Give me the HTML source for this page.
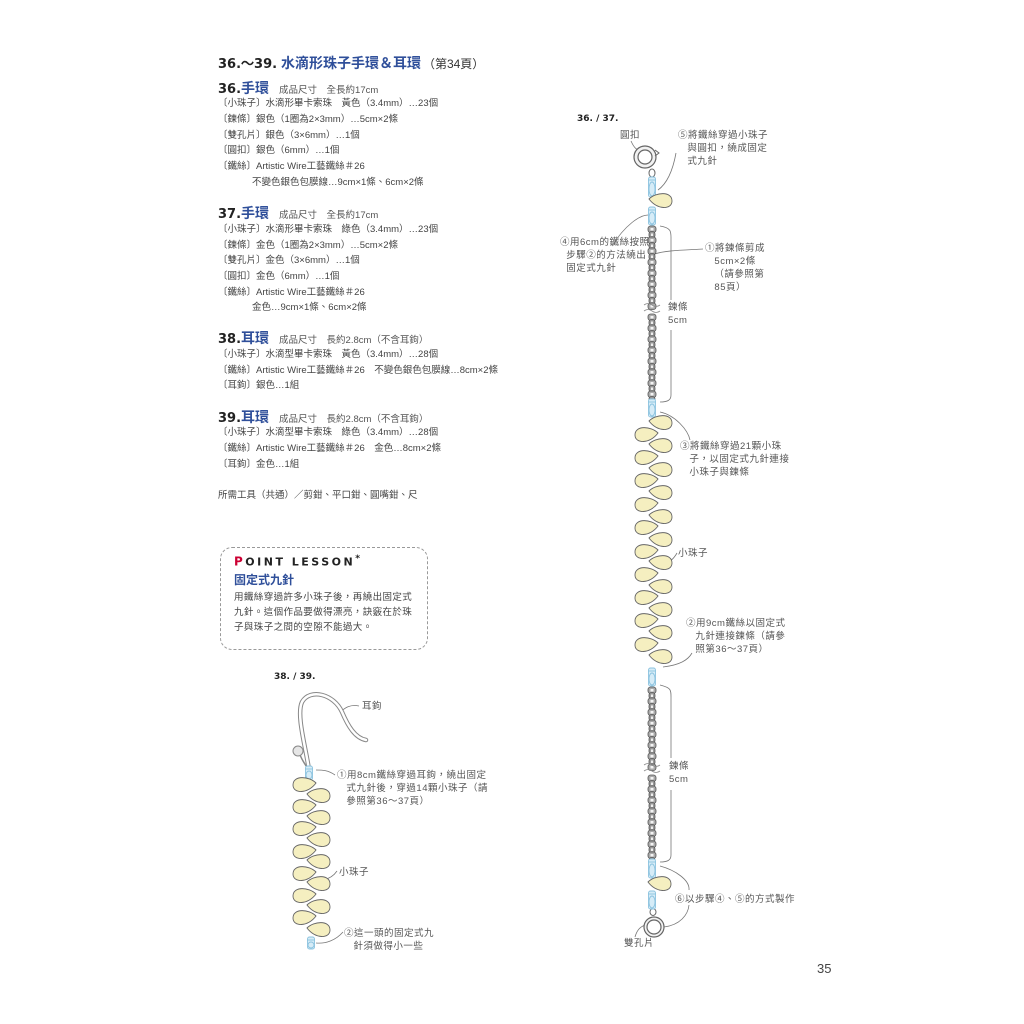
<!DOCTYPE html>
<html><head><meta charset="utf-8">
<style>
html,body{margin:0;padding:0;background:#fff;}
#pg{position:relative;width:1024px;height:1024px;overflow:hidden;font-family:"Liberation Sans","Noto Sans CJK TC",sans-serif;color:#444;}
.t{position:absolute;white-space:nowrap;font-size:9.5px;line-height:12px;color:#444;}
.h{position:absolute;white-space:nowrap;font-size:14px;font-weight:bold;color:#222;line-height:16px;}
.h b{color:#2f4f9a;font-weight:bold;font-size:14px;}
.h span{font-weight:normal;font-size:9.5px;color:#555;margin-left:10px;}
.num{font-family:"DejaVu Sans","Liberation Sans",sans-serif;font-weight:bold !important;color:#222;}
.lbl{position:absolute;white-space:nowrap;font-size:9.5px;line-height:13px;color:#555;letter-spacing:0.5px;}
svg{position:absolute;left:0;top:0;}
</style></head><body><div id="pg">

<div class="h" style="left:218px;top:55px;font-size:14px;"><span class="num" style="margin:0;font-size:13px;color:#222">36.～39.</span> <b>水滴形珠子手環＆耳環</b><span style="margin-left:2px;font-size:12px;color:#333">（第34頁）</span></div>

<div class="h" style="left:218px;top:80px;"><span class="num" style="margin:0;font-size:13px;color:#222">36.</span><b>手環</b><span>成品尺寸　全長約17cm</span></div>
<div class="t" style="left:218px;top:98px">〔小珠子〕水滴形畢卡索珠　黃色（3.4mm）…23個</div>
<div class="t" style="left:218px;top:114px">〔鍊條〕銀色（1圈為2×3mm）…5cm×2條</div>
<div class="t" style="left:218px;top:130px">〔雙孔片〕銀色（3×6mm）…1個</div>
<div class="t" style="left:218px;top:145px">〔圓扣〕銀色（6mm）…1個</div>
<div class="t" style="left:218px;top:161px">〔鐵絲〕Artistic Wire工藝鐵絲＃26</div>
<div class="t" style="left:252px;top:177px">不變色銀色包膜線…9cm×1條、6cm×2條</div>

<div class="h" style="left:218px;top:205px;"><span class="num" style="margin:0;font-size:13px;color:#222">37.</span><b>手環</b><span>成品尺寸　全長約17cm</span></div>
<div class="t" style="left:218px;top:224px">〔小珠子〕水滴形畢卡索珠　綠色（3.4mm）…23個</div>
<div class="t" style="left:218px;top:240px">〔鍊條〕金色（1圈為2×3mm）…5cm×2條</div>
<div class="t" style="left:218px;top:255px">〔雙孔片〕金色（3×6mm）…1個</div>
<div class="t" style="left:218px;top:271px">〔圓扣〕金色（6mm）…1個</div>
<div class="t" style="left:218px;top:287px">〔鐵絲〕Artistic Wire工藝鐵絲＃26</div>
<div class="t" style="left:252px;top:302px">金色…9cm×1條、6cm×2條</div>

<div class="h" style="left:218px;top:330px;"><span class="num" style="margin:0;font-size:13px;color:#222">38.</span><b>耳環</b><span>成品尺寸　長約2.8cm（不含耳鉤）</span></div>
<div class="t" style="left:218px;top:349px">〔小珠子〕水滴型畢卡索珠　黃色（3.4mm）…28個</div>
<div class="t" style="left:218px;top:365px">〔鐵絲〕Artistic Wire工藝鐵絲＃26　不變色銀色包膜線…8cm×2條</div>
<div class="t" style="left:218px;top:380px">〔耳鉤〕銀色…1組</div>

<div class="h" style="left:218px;top:409px;"><span class="num" style="margin:0;font-size:13px;color:#222">39.</span><b>耳環</b><span>成品尺寸　長約2.8cm（不含耳鉤）</span></div>
<div class="t" style="left:218px;top:427px">〔小珠子〕水滴型畢卡索珠　綠色（3.4mm）…28個</div>
<div class="t" style="left:218px;top:443px">〔鐵絲〕Artistic Wire工藝鐵絲＃26　金色…8cm×2條</div>
<div class="t" style="left:218px;top:459px">〔耳鉤〕金色…1組</div>

<div class="t" style="left:218px;top:490px">所需工具（共通）／剪鉗、平口鉗、圓嘴鉗、尺</div>

<div style="position:absolute;left:220px;top:547px;width:206px;height:101px;border:1px dashed #999;border-radius:12px;"></div>
<div class="t" style="left:234px;top:553px;font-size:11px;letter-spacing:2.5px;color:#222;font-weight:bold;font-family:'DejaVu Sans',sans-serif;"><span style="color:#c03;font-size:12px">P</span>OINT LESSON<sup>*</sup></div>
<div class="t" style="left:234px;top:573px;font-size:12px;line-height:14px;color:#2f4f9a;font-weight:bold;">固定式九針</div>
<div class="t" style="left:234px;top:590px;font-size:9.5px;line-height:15px;letter-spacing:0.4px;color:#444;">用鐵絲穿過許多小珠子後，再繞出固定式<br>九針。這個作品要做得漂亮，訣竅在於珠<br>子與珠子之間的空隙不能過大。</div>

<div class="t" style="left:274px;top:671px;font-weight:bold;font-size:9px;color:#222;font-family:'DejaVu Sans',sans-serif">38. / 39.</div>
<div class="t" style="left:577px;top:113px;font-weight:bold;font-size:9px;color:#222;font-family:'DejaVu Sans',sans-serif">36. / 37.</div>

<div class="lbl" style="left:620px;top:129px">圓扣</div>
<div class="lbl" style="left:678px;top:129px;">⑤將鐵絲穿過小珠子<br>&nbsp;&nbsp;&nbsp;與圓扣，繞成固定<br>&nbsp;&nbsp;&nbsp;式九針</div>
<div class="lbl" style="left:560px;top:236px;">④用6cm的鐵絲按照<br>&nbsp;&nbsp;步驟②的方法繞出<br>&nbsp;&nbsp;固定式九針</div>
<div class="lbl" style="left:705px;top:242px;">①將鍊條剪成<br>&nbsp;&nbsp;&nbsp;5cm×2條<br>&nbsp;&nbsp;&nbsp;（請參照第<br>&nbsp;&nbsp;&nbsp;85頁）</div>
<div class="lbl" style="left:668px;top:301px;">鍊條<br>5cm</div>
<div class="lbl" style="left:680px;top:440px;">③將鐵絲穿過21顆小珠<br>&nbsp;&nbsp;&nbsp;子，以固定式九針連接<br>&nbsp;&nbsp;&nbsp;小珠子與鍊條</div>
<div class="lbl" style="left:678px;top:547px;">小珠子</div>
<div class="lbl" style="left:686px;top:617px;">②用9cm鐵絲以固定式<br>&nbsp;&nbsp;&nbsp;九針連接鍊條（請參<br>&nbsp;&nbsp;&nbsp;照第36～37頁）</div>
<div class="lbl" style="left:669px;top:760px;">鍊條<br>5cm</div>
<div class="lbl" style="left:675px;top:893px;">⑥以步驟④、⑤的方式製作</div>
<div class="lbl" style="left:624px;top:937px;">雙孔片</div>

<div class="lbl" style="left:362px;top:700px;">耳鉤</div>
<div class="lbl" style="left:337px;top:769px;">①用8cm鐵絲穿過耳鉤，繞出固定<br>&nbsp;&nbsp;&nbsp;式九針後，穿過14顆小珠子（請<br>&nbsp;&nbsp;&nbsp;參照第36～37頁）</div>
<div class="lbl" style="left:339px;top:866px;">小珠子</div>
<div class="lbl" style="left:344px;top:927px;">②這一頭的固定式九<br>&nbsp;&nbsp;&nbsp;針須做得小一些</div>

<div class="t" style="left:817px;top:961px;font-size:13px;line-height:15px;color:#444">35</div>

<svg id="sv" width="1024" height="1024" viewBox="0 0 1024 1024">
<g fill="none" stroke="#777" stroke-width="0.8">
 <path d="M631,141 C635,150 638,150 640,150"/>
 <path d="M676,153 C672,175 665,185 658,190"/>
 <path d="M612,246 C625,225 640,215 648,215"/>
 <path d="M703,249 C690,250 665,250 655,254"/>
 <path d="M660,226 C672,228 671,232 671,240 L671,300 M671,330 L671,395 C671,400 668,402 660,402"/>
 <path d="M660,412 C675,415 688,430 690,440"/>
 <path d="M677,553 C673,560 668,563 664,564"/>
 <path d="M663,667 C680,665 688,660 692,653"/>
 <path d="M660,685 C672,688 671,690 671,700 L671,758 M671,790 L671,855 C671,860 668,862 660,862"/>
 <path d="M660,866 C675,870 690,880 689,890 M689,905 C688,915 680,925 664,927"/>
 <path d="M635,937 C637,930 640,927 645,925"/>
 <path d="M359,706 C350,704 345,708 340,712"/>
 <path d="M335,775 C328,770 322,770 316,770"/>
 <path d="M337,871 C333,877 328,879 323,880"/>
 <path d="M343,932 C336,940 326,944 316,943"/>
</g>
<path d="M309,770 C306,748 296,715 302,702 C310,688 334,694 342,712 C348,726 355,738 366,740" fill="none" stroke="#888" stroke-width="4.5" stroke-linecap="round"/>
<path d="M309,770 C306,748 296,715 302,702 C310,688 334,694 342,712 C348,726 355,738 366,740" fill="none" stroke="#fff" stroke-width="2.5" stroke-linecap="round"/>
<path d="M300,755 C303,762 306,766 309,770" fill="none" stroke="#888" stroke-width="1.5"/>
<circle cx="298" cy="751" r="5" fill="#e6e6e6" stroke="#888" stroke-width="1"/>
<circle cx="645" cy="157" r="11" fill="#f2f2f2" stroke="#666" stroke-width="1.2"/>
<circle cx="645" cy="157" r="7" fill="#fff" stroke="#666" stroke-width="1.2"/>
<path d="M655,150 l4,3 -4,3" fill="none" stroke="#666" stroke-width="1"/>
<ellipse cx="652" cy="173" rx="3" ry="4" fill="none" stroke="#666" stroke-width="1"/>
<circle cx="654" cy="927" r="10" fill="#f2f2f2" stroke="#666" stroke-width="1.2"/>
<circle cx="654" cy="927" r="7" fill="#fff" stroke="#666" stroke-width="1.2"/>
<ellipse cx="653" cy="912" rx="3" ry="3.5" fill="none" stroke="#666" stroke-width="1"/>
<g id="dyn"></g>
</svg>
</div>
<script>
var g=document.getElementById('dyn'),h='';
function bead(x,y,dir){
 var d=dir;
 var tx=x-d*12, ty=y-2;
 h+='<path d="M'+tx+','+ty+' C'+(x-d*5)+','+(y-9)+' '+(x+d*11)+','+(y-10)+' '+(x+d*11)+','+y+' C'+(x+d*11)+','+(y+9)+' '+(x-d*4)+','+(y+9)+' '+tx+','+ty+' Z" fill="#f5efc0" stroke="#666" stroke-width="0.9"/>';
}
function conn(x,y1,y2){
 h+='<rect x="'+(x-3.5)+'" y="'+y1+'" width="7" height="'+(y2-y1)+'" rx="2" fill="#d6ecf7" stroke="#8cc3df" stroke-width="0.9"/>';
 h+='<ellipse cx="'+x+'" cy="'+((y1+y2)/2+2)+'" rx="3" ry="'+((y2-y1)/2-3)+'" fill="none" stroke="#8cc3df" stroke-width="0.9"/>';
 h+='<line x1="'+(x-4)+'" y1="'+(y1+3)+'" x2="'+(x+4)+'" y2="'+(y1+3)+'" stroke="#8cc3df" stroke-width="0.9"/>';
}
function chain(x,y1,y2,brk){
 for(var y=y1,i=0;y<y2;y+=5.5,i++){
  if(Math.abs(y-brk)<4) continue;
  if(i%2==0) h+='<rect x="'+(x-4)+'" y="'+y+'" width="8" height="6.5" rx="2.5" fill="#aaa" stroke="#555" stroke-width="0.8"/><rect x="'+(x-1.5)+'" y="'+(y+2)+'" width="3" height="2.5" fill="#f4f4f4"/>';
  else h+='<rect x="'+(x-3)+'" y="'+y+'" width="6" height="6.5" rx="2.5" fill="#999" stroke="#555" stroke-width="0.8"/><rect x="'+(x-1)+'" y="'+(y+2)+'" width="2" height="2.5" fill="#eee"/>';
 }
 h+='<path d="M'+(x-8)+','+(brk-3)+' q4,-3 8,0 t8,0 M'+(x-8)+','+(brk+3)+' q4,-3 8,0 t8,0" fill="none" stroke="#888" stroke-width="0.8"/>';
}
conn(652,177,197);
bead(661,201,1);
conn(652,207,225);
chain(652,226,398,308);
conn(652,399,417);
var L=[435,458,481,505,528,552,575,598,621,645], R=[423,446,470,493,517,540,563,587,610,633,657];
for(var i=0;i<L.length;i++) bead(646,L[i],-1);
for(var i=0;i<R.length;i++) bead(661,R[i],1);
conn(652,668,686);
chain(652,687,858,768);
conn(652,859,878);
bead(660,884,1);
conn(652,891,909);
conn(309,766,780);
var L2=[785,807,829,852,874,896,918], R2=[796,818,840,862,884,907,930];
for(var i=0;i<7;i++){bead(304,L2[i],-1);bead(319,R2[i],1);}
conn(311,937,949);
g.innerHTML=h;
</script>
</body></html>
